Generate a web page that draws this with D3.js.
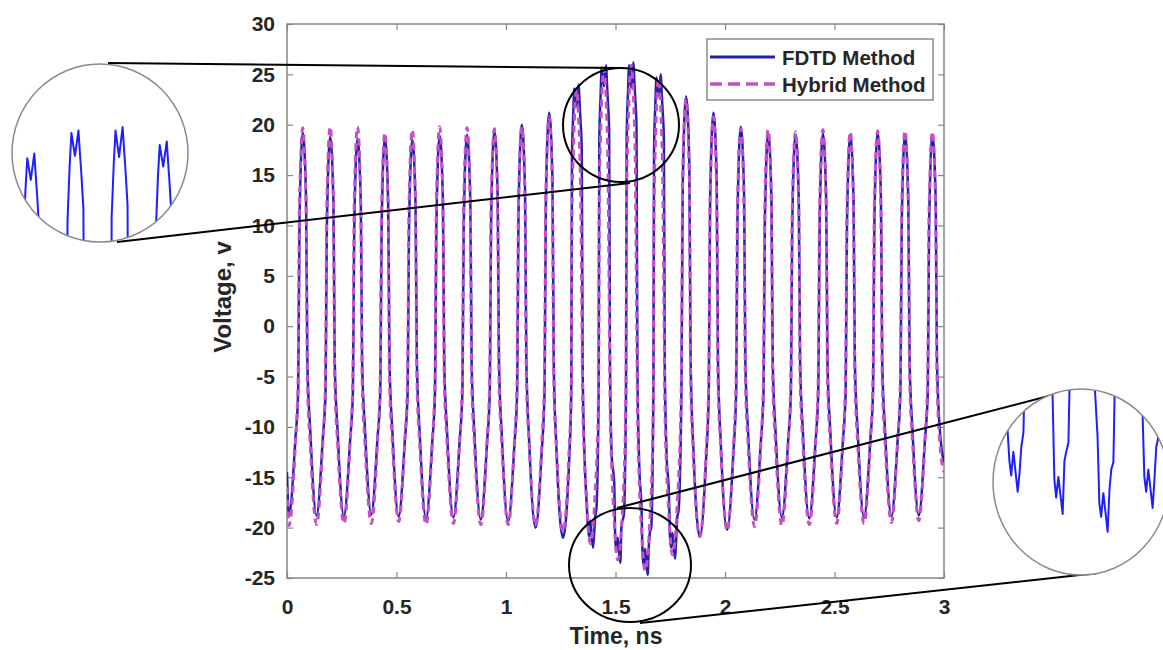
<!DOCTYPE html>
<html>
<head>
<meta charset="utf-8">
<script src="https://cdn.jsdelivr.net/npm/d3@7"></script>
<style>
  html, body { margin: 0; padding: 0; background: #fff; }
  svg { display: block; }
</style>
</head>
<body>
<svg id="chart" width="1163" height="650"></svg>
<script>
// Sample times (ns), shared by both solvers
const timeNs = [
  0.000, 0.009,
  0.038, 0.051, 0.057, 0.072, 0.087, 0.093, 0.106, 0.135,
  0.163, 0.176, 0.182, 0.197, 0.212, 0.218, 0.231, 0.260,
  0.288, 0.301, 0.307, 0.322, 0.337, 0.343, 0.356, 0.385,
  0.413, 0.426, 0.432, 0.447, 0.462, 0.468, 0.481, 0.510,
  0.538, 0.551, 0.557, 0.572, 0.587, 0.593, 0.606, 0.635,
  0.663, 0.676, 0.682, 0.697, 0.712, 0.718, 0.731, 0.760,
  0.788, 0.801, 0.807, 0.822, 0.837, 0.843, 0.856, 0.885,
  0.913, 0.926, 0.932, 0.947, 0.962, 0.968, 0.981, 1.010,
  1.038, 1.051, 1.057, 1.072, 1.087, 1.093, 1.106, 1.135,
  1.163, 1.176, 1.182, 1.197, 1.212, 1.218, 1.231, 1.260,
  1.288, 1.298, 1.301, 1.307, 1.312, 1.322, 1.332, 1.336, 1.340, 1.346, 1.350, 1.358, 1.369, 1.374, 1.379, 1.385, 1.397, 1.402, 1.407,
  1.413, 1.423, 1.426, 1.432, 1.437, 1.447, 1.457, 1.461, 1.465, 1.471, 1.475, 1.483, 1.494, 1.499, 1.504, 1.510, 1.522, 1.527, 1.532,
  1.538, 1.548, 1.551, 1.557, 1.562, 1.572, 1.582, 1.586, 1.590, 1.596, 1.600, 1.608, 1.619, 1.624, 1.629, 1.635, 1.647, 1.652, 1.657,
  1.663, 1.673, 1.676, 1.682, 1.687, 1.697, 1.707, 1.711, 1.715, 1.721, 1.725, 1.733, 1.744, 1.749, 1.754, 1.760, 1.772, 1.777, 1.782,
  1.788, 1.801, 1.807, 1.822, 1.837, 1.843, 1.856, 1.885,
  1.913, 1.926, 1.932, 1.947, 1.962, 1.968, 1.981, 2.010,
  2.038, 2.051, 2.057, 2.072, 2.087, 2.093, 2.106, 2.135,
  2.163, 2.176, 2.182, 2.197, 2.212, 2.218, 2.231, 2.260,
  2.288, 2.301, 2.307, 2.322, 2.337, 2.343, 2.356, 2.385,
  2.413, 2.426, 2.432, 2.447, 2.462, 2.468, 2.481, 2.510,
  2.538, 2.551, 2.557, 2.572, 2.587, 2.593, 2.606, 2.635,
  2.663, 2.676, 2.682, 2.697, 2.712, 2.718, 2.731, 2.760,
  2.788, 2.801, 2.807, 2.822, 2.837, 2.843, 2.856, 2.885,
  2.913, 2.926, 2.932, 2.947, 2.962, 2.968, 2.981, 3.000
];

// FDTD voltage (V)
const fdtdVolts = [
  -14.5, -18.8,
  -11.3, -6.5, 10.2, 19.2, 12.7, -3.5, -10.3, -18.8,
  -11.3, -6.5, 9.8, 18.8, 12.3, -3.5, -10.4, -18.9,
  -11.4, -6.5, 9.6, 18.6, 12.1, -3.5, -10.2, -18.7,
  -11.2, -6.5, 9.7, 18.7, 12.2, -3.5, -10.4, -18.9,
  -11.4, -6.5, 9.5, 18.5, 12.0, -3.5, -10.6, -19.1,
  -11.6, -6.5, 9.9, 18.9, 12.4, -3.5, -10.5, -19.0,
  -11.5, -6.5, 10.0, 19.0, 12.5, -3.5, -10.7, -19.2,
  -11.7, -6.5, 10.4, 19.4, 12.9, -3.5, -10.9, -19.4,
  -11.9, -6.5, 11.0, 20.0, 13.5, -3.5, -11.5, -20.0,
  -12.5, -6.5, 12.2, 21.2, 14.7, -3.5, -12.5, -21.0,
  -13.5, -6.5, 16.5, 21.0, 23.6, 21.8, 24.0, 22.2, 20.5, 17.5, -4.0, -12.5, -17.9, -19.9, -20.9, -19.3, -22.0, -20.8, -19.0,
  -18.0, -6.5, 18.4, 22.9, 25.7, 23.8, 25.9, 24.1, 22.4, 19.4, -4.0, -13.0, -15.5, -21.2, -22.4, -21.0, -23.5, -19.9, -19.3,
  -18.7, -6.5, 18.7, 23.2, 25.9, 23.7, 26.2, 24.4, 22.7, 19.7, -4.0, -13.5, -18.3, -22.8, -23.7, -22.1, -24.7, -21.9, -20.5,
  -20.0, -6.5, 17.5, 22.0, 24.7, 22.9, 25.0, 23.2, 21.5, 18.5, -4.0, -12.5, -16.7, -21.0, -22.0, -20.5, -23.1, -21.2, -19.0,
  -18.3, -6.5, 13.8, 22.8, 16.3, -3.5, -12.4, -20.9,
  -13.4, -6.5, 12.2, 21.2, 14.7, -3.5, -11.7, -20.2,
  -12.7, -6.5, 10.8, 19.8, 13.3, -3.5, -10.7, -19.2,
  -11.7, -6.5, 10.2, 19.2, 12.7, -3.5, -10.5, -19.0,
  -11.5, -6.5, 10.0, 19.0, 12.5, -3.5, -10.6, -19.1,
  -11.6, -6.5, 10.1, 19.1, 12.6, -3.5, -10.5, -19.0,
  -11.5, -6.5, 10.0, 19.0, 12.5, -3.5, -10.5, -19.0,
  -11.5, -6.5, 10.2, 19.2, 12.7, -3.5, -10.4, -18.9,
  -11.4, -6.5, 10.0, 19.0, 12.5, -3.5, -10.3, -18.8,
  -11.3, -6.5, 10.0, 19.0, 12.5, -3.5, -10.3, -13.5
];

// Hybrid method voltage (V)
const hybridVolts = [
  -16.0, -19.8,
  -11.8, -5, 12.0, 19.7, 12.0, -5, -11.7, -19.7,
  -11.7, -5, 12.1, 19.8, 12.1, -5, -11.6, -19.6,
  -11.6, -5, 12.1, 19.8, 12.1, -5, -11.6, -19.6,
  -11.6, -5, 11.5, 19.2, 11.5, -5, -11.4, -19.4,
  -11.4, -5, 11.8, 19.5, 11.8, -5, -11.7, -19.7,
  -11.7, -5, 12.1, 19.8, 12.1, -5, -11.6, -19.6,
  -11.6, -5, 12.0, 19.7, 12.0, -5, -11.7, -19.7,
  -11.7, -5, 11.9, 19.6, 11.9, -5, -11.7, -19.7,
  -11.7, -5, 12.1, 19.8, 12.1, -5, -11.8, -19.8,
  -11.8, -5, 13.1, 20.8, 13.1, -5, -12.4, -20.4,
  -12.4, -6, 10.5, 17.0, 20.5, 23.5, 20.5, 18.0, 14.5, 3.0, -7.0, -13.0, -17.6, -19.6, -20.9, -21.6, -20.1, -18.6, -16.6,
  -14.1, -6, 12.6, 19.1, 22.6, 25.6, 22.6, 20.1, 16.6, 3.0, -7.0, -14.0, -19.2, -21.2, -22.5, -23.2, -21.7, -20.2, -18.2,
  -15.7, -6, 12.9, 19.4, 22.9, 25.9, 22.9, 20.4, 16.9, 3.0, -7.0, -15.0, -20.3, -22.3, -23.6, -24.3, -22.8, -21.3, -19.3,
  -16.8, -6, 11.6, 18.1, 21.6, 24.6, 21.6, 19.1, 15.6, 3.0, -7.0, -14.0, -18.7, -20.7, -22.0, -22.7, -21.2, -19.7, -17.7,
  -15.2, -5, 14.9, 22.6, 14.9, -5, -12.9, -20.9,
  -12.9, -5, 13.1, 20.8, 13.1, -5, -12.3, -20.3,
  -12.3, -5, 11.9, 19.6, 11.9, -5, -11.9, -19.9,
  -11.9, -5, 11.8, 19.5, 11.8, -5, -11.8, -19.8,
  -11.8, -5, 11.6, 19.3, 11.6, -5, -11.7, -19.7,
  -11.7, -5, 11.8, 19.5, 11.8, -5, -11.6, -19.6,
  -11.6, -5, 11.6, 19.3, 11.6, -5, -11.6, -19.6,
  -11.6, -5, 11.7, 19.4, 11.7, -5, -11.5, -19.5,
  -11.5, -5, 11.7, 19.4, 11.7, -5, -11.3, -19.3,
  -11.3, -5, 11.6, 19.3, 11.6, -5, -11.5, -14.5
];

const xTicks = [0, 0.5, 1, 1.5, 2, 2.5, 3];
const yTicks = [-25, -20, -15, -10, -5, 0, 5, 10, 15, 20, 25, 30];
const seriesNames = ["FDTD Method", "Hybrid Method"];
const xTitle = "Time, ns";
const yTitle = "Voltage, v";

// ---- styling ----
const FONT = '"Liberation Sans", Arial, Helvetica, sans-serif';
const AXIS_GRAY = "#878787";
const TEXT = "#262626";
const BLUE = "#2222a8";
const MAGENTA = "#c64ec6";
const INSET_BLUE = "#1e1eff";

const svg = d3.select("#chart");
const plot = { left: 287, right: 944, top: 24, bottom: 578 };

const x = d3.scaleLinear().domain([0, 3]).range([plot.left, plot.right]);
const y = d3.scaleLinear().domain([-25, 30]).range([plot.bottom, plot.top]);

const fdtd = timeNs.map((t, i) => ({ t, v: fdtdVolts[i] }));
const hybrid = timeNs.map((t, i) => ({ t, v: hybridVolts[i] }));

const defs = svg.append("defs");
defs.append("clipPath").attr("id", "plotClip")
  .append("rect")
  .attr("x", plot.left).attr("y", plot.top)
  .attr("width", plot.right - plot.left).attr("height", plot.bottom - plot.top);

// ---- axes ----
function styleAxis(g, size) {
  g.attr("font-family", FONT).attr("font-size", size).attr("font-weight", "bold");
  g.select(".domain").remove();
  g.selectAll(".tick line").attr("stroke", AXIS_GRAY).attr("stroke-width", 1.2);
  g.selectAll(".tick text").attr("fill", TEXT);
}

svg.append("g")
  .attr("transform", `translate(0,${plot.bottom})`)
  .call(d3.axisBottom(x).tickValues(xTicks).tickFormat(d => String(d))
    .tickSizeInner(-6).tickSizeOuter(0).tickPadding(21))
  .call(g => styleAxis(g, 21));

svg.append("g")
  .attr("transform", `translate(${plot.left},0)`)
  .call(d3.axisLeft(y).tickValues(yTicks).tickFormat(d => String(d))
    .tickSizeInner(-6).tickSizeOuter(0).tickPadding(12))
  .call(g => styleAxis(g, 21));

svg.append("g")
  .attr("transform", `translate(0,${plot.top})`)
  .call(d3.axisTop(x).tickValues(xTicks).tickFormat(() => "")
    .tickSizeInner(-6).tickSizeOuter(0))
  .call(g => styleAxis(g, 21));

svg.append("g")
  .attr("transform", `translate(${plot.right},0)`)
  .call(d3.axisRight(y).tickValues(yTicks).tickFormat(() => "")
    .tickSizeInner(-6).tickSizeOuter(0))
  .call(g => styleAxis(g, 21));

svg.append("rect")
  .attr("x", plot.left).attr("y", plot.top)
  .attr("width", plot.right - plot.left).attr("height", plot.bottom - plot.top)
  .attr("fill", "none").attr("stroke", AXIS_GRAY).attr("stroke-width", 1.5);

// ---- axis titles ----
svg.append("text")
  .attr("x", 616).attr("y", 644)
  .attr("text-anchor", "middle")
  .attr("font-family", FONT).attr("font-weight", "bold").attr("font-size", 23)
  .attr("fill", TEXT)
  .text(xTitle);

svg.append("text")
  .attr("transform", "translate(231,297) rotate(-90)")
  .attr("text-anchor", "middle")
  .attr("font-family", FONT).attr("font-weight", "bold").attr("font-size", 24)
  .attr("fill", TEXT)
  .text(yTitle);

// ---- series ----
const line = d3.line()
  .x(d => x(d.t)).y(d => y(d.v))
  .curve(d3.curveMonotoneX);

const series = svg.append("g").attr("clip-path", "url(#plotClip)");
series.append("path")
  .datum(fdtd)
  .attr("d", line)
  .attr("fill", "none").attr("stroke", BLUE)
  .attr("stroke-width", 2.5).attr("stroke-linejoin", "round");

series.append("path")
  .datum(hybrid)
  .attr("d", line)
  .attr("fill", "none").attr("stroke", MAGENTA)
  .attr("stroke-width", 3).attr("stroke-dasharray", "7,5")
  .attr("stroke-linejoin", "round");

// ---- highlight rings on the plot ----
svg.append("ellipse")
  .attr("cx", 621).attr("cy", 125).attr("rx", 58).attr("ry", 57)
  .attr("fill", "none").attr("stroke", "#000").attr("stroke-width", 2);
svg.append("ellipse")
  .attr("cx", 630).attr("cy", 565).attr("rx", 61).attr("ry", 57)
  .attr("fill", "none").attr("stroke", "#000").attr("stroke-width", 2);

// leader lines to the magnified views
const leaders = [
  [108, 63, 620, 68],
  [117, 242, 630, 183],
  [617, 508, 1068, 391],
  [640, 623, 1098, 573]
];
svg.append("g").selectAll("line").data(leaders).join("line")
  .attr("x1", d => d[0]).attr("y1", d => d[1])
  .attr("x2", d => d[2]).attr("y2", d => d[3])
  .attr("stroke", "#000").attr("stroke-width", 2);

// ---- magnified views of the FDTD trace ----
const insetLine = (sx, sy) => d3.line().x(d => sx(d.t)).y(d => sy(d.v)).curve(d3.curveLinear);

function magnifier(id, cx, cy, rx, ry, sx, sy) {
  defs.append("clipPath").attr("id", id)
    .append("ellipse").attr("cx", cx).attr("cy", cy).attr("rx", rx).attr("ry", ry);
  svg.append("ellipse")
    .attr("cx", cx).attr("cy", cy).attr("rx", rx).attr("ry", ry)
    .attr("fill", "#fff");
  svg.append("g").attr("clip-path", `url(#${id})`)
    .append("path")
    .datum(fdtd)
    .attr("d", insetLine(sx, sy))
    .attr("fill", "none").attr("stroke", INSET_BLUE)
    .attr("stroke-width", 2).attr("stroke-linejoin", "round");
  svg.append("ellipse")
    .attr("cx", cx).attr("cy", cy).attr("rx", rx).attr("ry", ry)
    .attr("fill", "none").attr("stroke", "#8a8a8a").attr("stroke-width", 1.5);
}

// peaks around 1.3–1.75 ns
magnifier("magTop", 100, 153, 88, 89,
  d3.scaleLinear().domain([1.266, 1.770]).range([11, 189]),
  d3.scaleLinear().domain([16.5, 26.2]).range([243.4, 127]));

// troughs around 1.35–1.8 ns
magnifier("magBottom", 1081, 482, 88, 93,
  d3.scaleLinear().domain([1.329, 1.800]).range([993.2, 1162.7]),
  d3.scaleLinear().domain([-22, -15]).range([491.7, 388.1]));

// ---- legend ----
const legend = svg.append("g");
legend.append("rect")
  .attr("x", 707).attr("y", 39).attr("width", 226).attr("height", 61)
  .attr("fill", "#fff").attr("stroke", "#8c8c8c").attr("stroke-width", 1.5);

const legendItems = [
  { name: seriesNames[0], color: BLUE, width: 3, dash: null, yy: 57 },
  { name: seriesNames[1], color: MAGENTA, width: 3.5, dash: "12,6", yy: 84 }
];
legendItems.forEach(it => {
  legend.append("line")
    .attr("x1", 710).attr("x2", 775).attr("y1", it.yy).attr("y2", it.yy)
    .attr("stroke", it.color).attr("stroke-width", it.width)
    .attr("stroke-dasharray", it.dash);
  legend.append("text")
    .attr("x", 782).attr("y", it.yy + 7.5)
    .attr("font-family", FONT).attr("font-weight", "bold").attr("font-size", 20.5)
    .attr("fill", TEXT)
    .text(it.name);
});
</script>
</body>
</html>
